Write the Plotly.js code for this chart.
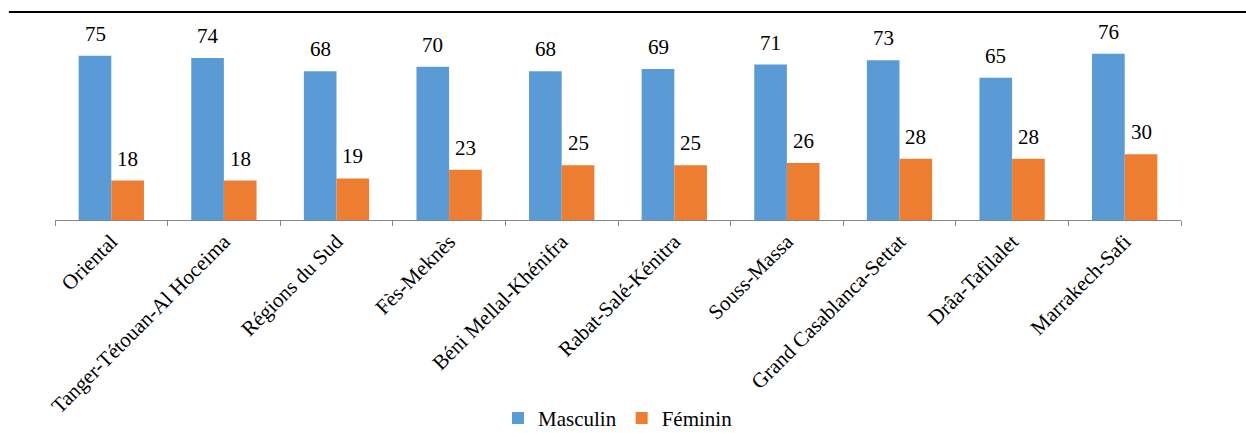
<!DOCTYPE html>
<html>
<head>
<meta charset="utf-8">
<script src="https://cdn.plot.ly/plotly-3.0.1.min.js"></script>
<style>html,body{margin:0;padding:0;background:#fff;}#chart{width:1246px;height:433px;}</style>
</head>
<body>
<div id="chart"></div>
<script>
const regions = ["Oriental", "Tanger-Tétouan-Al Hoceima", "Régions du Sud", "Fès-Meknès", "Béni Mellal-Khénifra", "Rabat-Salé-Kénitra", "Souss-Massa", "Grand Casablanca-Settat", "Drâa-Tafilalet", "Marrakech-Safi"];
const masculin = [75, 74, 68, 70, 68, 69, 71, 73, 65, 76];
const feminin = [18, 18, 19, 23, 25, 25, 26, 28, 28, 30];
const seriesNames = ["Masculin", "Féminin"];

const font = "Liberation Serif, Times New Roman, serif";
const traces = [
  {type: "bar", name: seriesNames[0], x: regions, y: masculin, marker: {color: "#5B9BD5"}},
  {type: "bar", name: seriesNames[1], x: regions, y: feminin, marker: {color: "#ED7D31"}}
];
const labelFont = {family: font, size: 21, color: "#000"};
const annotations = [];
[[masculin, -16.3], [feminin, 16.3]].forEach(([vals, dx]) => {
  vals.forEach((v, i) => {
    annotations.push({x: regions[i], y: v, xref: "x", yref: "y", text: String(v), showarrow: false,
      xanchor: "center", yanchor: "bottom", xshift: dx, yshift: 8, font: labelFont});
  });
});
const layout = {
  width: 1246, height: 433,
  margin: {l: 55, r: 65, t: 23, b: 213, autoexpand: false},
  paper_bgcolor: "#fff", plot_bgcolor: "#fff",
  barmode: "group", bargap: 0.42, bargroupgap: 0,
  font: {family: font, size: 21, color: "#000"},
  showlegend: true,
  legend: {orientation: "h", x: 0.5, xanchor: "center", yref: "paper", y: -0.903, yanchor: "top",
           font: {family: font, size: 21, color: "#000"}, itemwidth: 30, tracegroupgap: 0},
  xaxis: {type: "category", tickangle: -45, showline: true, linecolor: "#868686", linewidth: 1, automargin: false,
          ticks: "outside", tickson: "boundaries", ticklen: 5, tickcolor: "#868686",
          tickfont: {family: font, size: 21, color: "#000"}, showgrid: false, zeroline: false},
  yaxis: {range: [0, 90], visible: false, showgrid: false, zeroline: false, automargin: false},
  annotations: annotations,
  shapes: [{type: "line", xref: "paper", yref: "paper", x0: -0.041, x1: 1.06, y0: 1.056, y1: 1.056,
            line: {color: "#000", width: 2}}]
};
Plotly.newPlot("chart", traces, layout, {displayModeBar: false, staticPlot: true});
</script>
</body>
</html>
